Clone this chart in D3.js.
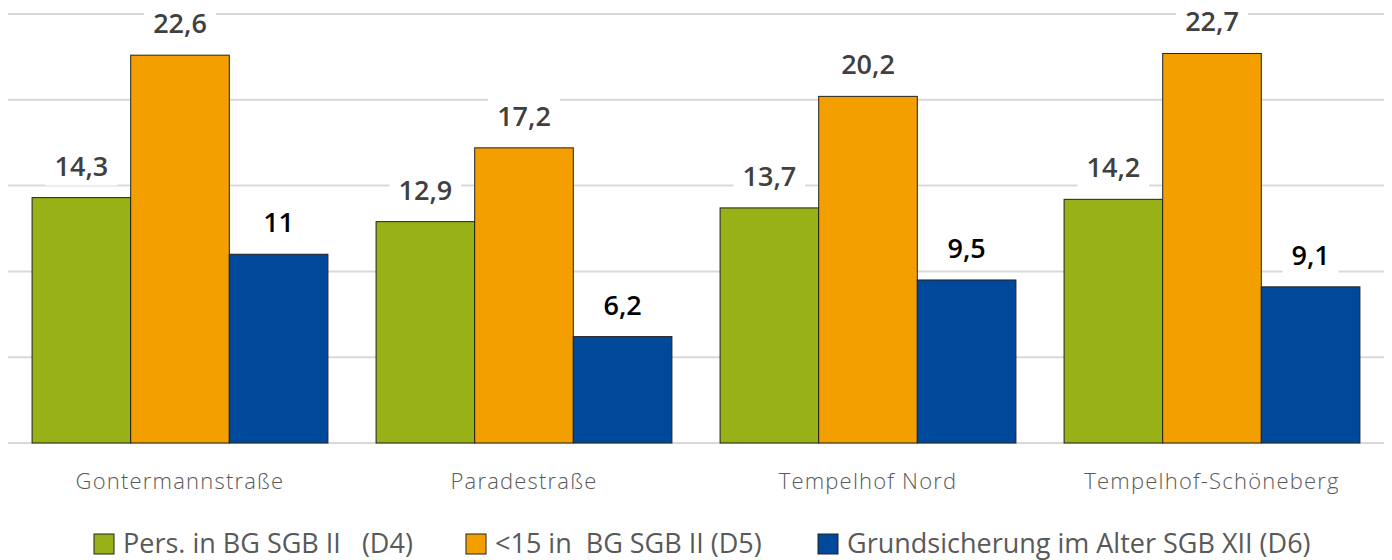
<!DOCTYPE html>
<html>
<head>
    <meta charset="utf-8">
    <title>SGB chart</title>
    <script src="https://d3js.org/d3.v7.min.js"></script>
    <style>
        body { margin: 0; background: #fff; }
    </style>
</head>
<body>
    <svg id="chart" width="1392" height="560"></svg>

    <script>
    var areas = ["Gontermannstraße", "Paradestraße", "Tempelhof Nord", "Tempelhof-Schöneberg"];
    var seriesNames = ["Pers. in BG SGB II   (D4)", "<15 in  BG SGB II (D5)", "Grundsicherung im Alter SGB XII (D6)"];
    var colors = ["#97b117", "#f49f00", "#00489a"];
    var labelColors = ["#404040", "#404040", "#000000"];

    var d4 = [14.3, 12.9, 13.7, 14.2];
    var d5 = [22.6, 17.2, 20.2, 22.7];
    var d6 = [11, 6.2, 9.5, 9.1];
    var yTicks = [0, 5, 10, 15, 20, 25];

    var series = [d4, d5, d6];

    var svg = d3.select('#chart');

    var xScale = d3.scaleBand()
        .domain(areas)
        .range([8, 1384])
        .paddingInner(0.14)
        .paddingOuter(0.07);

    var xInner = d3.scaleBand()
        .domain([0, 1, 2])
        .range([0, xScale.bandwidth()]);

    var yScale = d3.scaleLinear()
        .domain([0, 25])
        .range([443, 14]);

    // gridlines
    svg.append('g')
        .selectAll('line')
        .data(yTicks)
        .enter()
        .append('line')
        .attr('x1', 8)
        .attr('x2', 1384)
        .attr('y1', function(d) { return yScale(d); })
        .attr('y2', function(d) { return yScale(d); })
        .attr('stroke', '#d9d9d9')
        .attr('stroke-width', 2);

    var rows = [];
    series.forEach(function(vals, s) {
        vals.forEach(function(v, i) {
            rows.push({ area: areas[i], s: s, value: v });
        });
    });

    svg.append('g')
        .selectAll('rect')
        .data(rows)
        .enter()
        .append('rect')
        .attr('x', function(d) { return xScale(d.area) + xInner(d.s); })
        .attr('y', function(d) { return yScale(d.value); })
        .attr('width', xInner.bandwidth())
        .attr('height', function(d) { return yScale(0) - yScale(d.value); })
        .attr('fill', function(d) { return colors[d.s]; })
        .attr('stroke', '#222')
        .attr('stroke-width', 1);

    // value labels with white boxes
    var labels = svg.append('g')
        .selectAll('g')
        .data(rows)
        .enter()
        .append('g');

    labels.append('rect').attr('class', 'bg').attr('fill', '#fff');

    labels.append('text')
        .attr('x', function(d) { return xScale(d.area) + xInner(d.s) + xInner.bandwidth() / 2; })
        .attr('y', function(d) { return yScale(d.value) - 22; })
        .attr('text-anchor', 'middle')
        .attr('font-family', 'Open Sans, sans-serif')
        .attr('font-weight', 600)
        .attr('font-size', '27px')
        .attr('fill', function(d) { return labelColors[d.s]; })
        .text(function(d) { return String(d.value).replace('.', ','); });

    labels.each(function() {
        var g = d3.select(this);
        var bb = g.select('text').node().getBBox();
        g.select('rect.bg')
            .attr('x', bb.x - 9)
            .attr('y', bb.y - 2)
            .attr('width', bb.width + 18)
            .attr('height', bb.height + 4);
    });

    // category labels
    svg.append('g')
        .selectAll('text')
        .data(areas)
        .enter()
        .append('text')
        .attr('x', function(d) { return xScale(d) + xScale.bandwidth() / 2; })
        .attr('y', 489)
        .attr('text-anchor', 'middle')
        .attr('font-family', 'Open Sans, sans-serif')
        .attr('font-weight', 300)
        .attr('font-size', '22px')
        .attr('letter-spacing', '1.2px')
        .attr('fill', '#595959')
        .text(function(d) { return d; });

    // legend
    var legendX = [94, 466, 818];
    var legend = svg.append('g')
        .selectAll('g')
        .data(seriesNames)
        .enter()
        .append('g')
        .attr('transform', function(d, i) { return `translate(${legendX[i]}, 534)`; });

    legend.append('rect')
        .attr('width', 20)
        .attr('height', 20)
        .attr('fill', function(d, i) { return colors[i]; })
        .attr('stroke', '#222');

    legend.append('text')
        .attr('x', 29)
        .attr('y', 19)
        .attr('font-family', 'Open Sans, sans-serif')
        .attr('font-size', '27px')
        .attr('fill', '#595959')
        .style('white-space', 'pre')
        .text(function(d) { return d; });
    </script>
</body>
</html>
